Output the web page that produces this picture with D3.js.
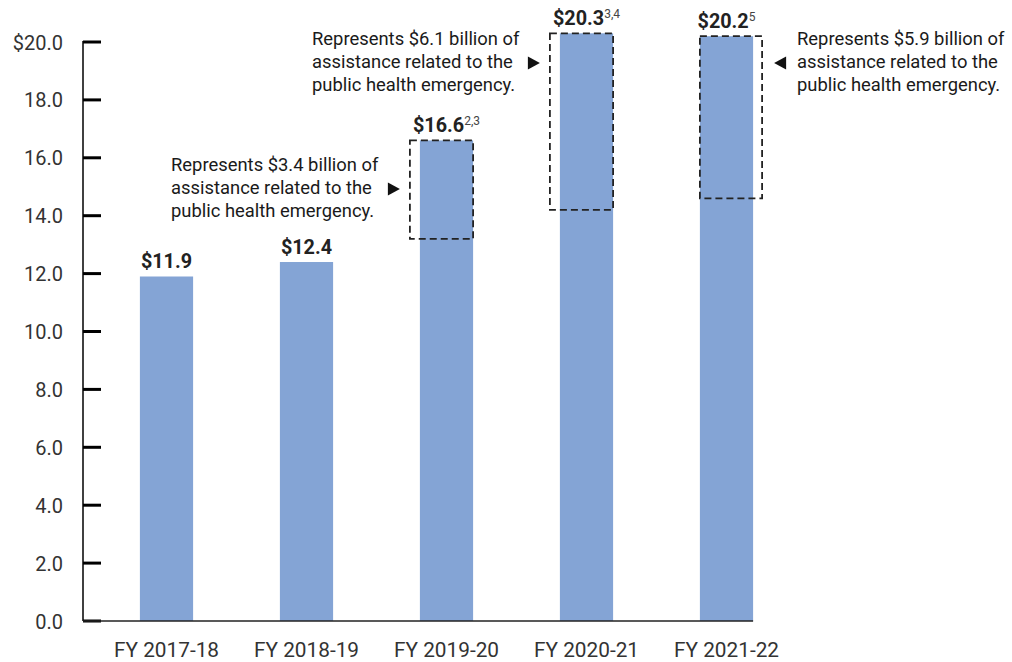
<!DOCTYPE html>
<html>
<head>
<meta charset="utf-8">
<script src="https://cdn.jsdelivr.net/npm/d3@7"></script>
<style>
  html, body { margin: 0; padding: 0; background: #fff; }
  svg { display: block; font-family: Roboto, "Noto Sans", sans-serif; }
</style>
</head>
<body>
<svg id="chart" width="1012" height="662"></svg>
<script>
// ---- data ----
const categories = ["FY 2017-18", "FY 2018-19", "FY 2019-20", "FY 2020-21", "FY 2021-22"];
const totals = [11.9, 12.4, 16.6, 20.3, 20.2];
const valueLabels = ["$11.9", "$12.4", "$16.6", "$20.3", "$20.2"];
const footnotes = ["", "", "2,3", "3,4", "5"];
const yTicks = [0, 2, 4, 6, 8, 10, 12, 14, 16, 18, 20];
const yTickLabels = ["0.0", "2.0", "4.0", "6.0", "8.0", "10.0", "12.0", "14.0", "16.0", "18.0", "$20.0"];
// public health emergency boxes
const pheCategories = ["FY 2019-20", "FY 2020-21", "FY 2021-22"];
const pheLow = [13.2, 14.2, 14.6];
const pheSide = ["left", "left", "right"];
const pheNotes = [
  ["Represents $3.4 billion of", "assistance related to the", "public health emergency."],
  ["Represents $6.1 billion of", "assistance related to the", "public health emergency."],
  ["Represents $5.9 billion of", "assistance related to the", "public health emergency."]
];

// ---- layout ----
const svg = d3.select("#chart");
const x = d3.scaleBand().domain(categories).range([96.5, 796.5]).paddingInner(0.62).paddingOuter(0.31);
const y = d3.scaleLinear().domain([0, 20]).range([621, 42]);
const barColor = "#84a4d5";
const axisX = 83;

// bars
svg.append("g").selectAll("rect").data(categories).join("rect")
  .attr("x", d => x(d))
  .attr("y", (d, i) => y(totals[i]))
  .attr("width", x.bandwidth())
  .attr("height", (d, i) => y(0) - y(totals[i]))
  .attr("fill", barColor);

// y axis
const yAxis = d3.axisLeft(y).tickValues(yTicks).tickSize(0).tickPadding(20)
  .tickFormat((d, i) => yTickLabels[i]);
const gy = svg.append("g").attr("transform", `translate(${axisX},0)`).call(yAxis);
gy.select(".domain").remove();
gy.selectAll("text").attr("font-size", 20).attr("fill", "#333").attr("font-family", "Roboto").attr("dy", "0.35em");
svg.append("line").attr("x1", axisX).attr("x2", axisX).attr("y1", y(20) - 1).attr("y2", y(0))
  .attr("stroke", "#000").attr("stroke-width", 1.5);
svg.append("g").selectAll("line").data(yTicks).join("line")
  .attr("x1", axisX).attr("x2", axisX + 18)
  .attr("y1", d => y(d)).attr("y2", d => y(d))
  .attr("stroke", "#000").attr("stroke-width", 3);

// x axis
svg.append("line").attr("x1", axisX).attr("x2", x(categories[4]) + x.bandwidth())
  .attr("y1", y(0)).attr("y2", y(0)).attr("stroke", "#222").attr("stroke-width", 1.5);
const xAxis = d3.axisBottom(x).tickSize(0).tickPadding(21);
const gx = svg.append("g").attr("transform", `translate(0,${y(0)})`).call(xAxis);
gx.select(".domain").remove();
gx.selectAll("text").attr("font-size", 20.8).attr("fill", "#333").attr("font-family", "Roboto");

// value labels
const lbl = svg.append("g").selectAll("text").data(categories).join("text")
  .attr("x", d => x(d) + x.bandwidth() / 2)
  .attr("y", (d, i) => y(totals[i]) - 8)
  .attr("text-anchor", "middle")
  .attr("font-weight", 700)
  .attr("font-size", 19.8)
  .attr("fill", "#222");
lbl.append("tspan").text((d, i) => valueLabels[i]);
lbl.append("tspan").attr("dy", -7).attr("font-size", 12).attr("font-weight", 400).attr("fill", "#444")
  .text((d, i) => footnotes[i]);

// PHE boxes
const boxG = svg.append("g");
pheCategories.forEach((c, i) => {
  const idx = categories.indexOf(c);
  const left = pheSide[i] === "left";
  const bx0 = left ? x(c) - 10 : x(c);
  const bx1 = left ? x(c) + x.bandwidth() : x(c) + x.bandwidth() + 9;
  const by0 = y(totals[idx]);
  const by1 = y(pheLow[i]);
  boxG.append("rect")
    .attr("x", bx0).attr("y", by0).attr("width", bx1 - bx0).attr("height", by1 - by0)
    .attr("fill", "none").attr("stroke", "#222").attr("stroke-width", 1.8)
    .attr("stroke-dasharray", "7,4");

  // annotation text and arrow
  const lineH = 23;
  let tx, ty, ax, ay;
  if (c === "FY 2019-20") { tx = 171; ty = 171; }
  else if (c === "FY 2020-21") { tx = 312; ty = 45; }
  else { tx = 797; ty = 45; }
  const t = svg.append("text").attr("font-size", 18.4).attr("fill", "#1a1a1a");
  pheNotes[i].forEach((s, k) => {
    t.append("tspan").attr("x", tx).attr("y", ty + k * lineH).text(s);
  });
  ay = ty + lineH - 5;
  if (left) {
    ax = bx0 - 10; // tip
    svg.append("path")
      .attr("d", `M${ax},${ay} L${ax - 12},${ay - 6.5} L${ax - 12},${ay + 6.5} Z`)
      .attr("fill", "#111");
  } else {
    ax = bx1 + 12;
    svg.append("path")
      .attr("d", `M${ax},${ay} L${ax + 12},${ay - 6.5} L${ax + 12},${ay + 6.5} Z`)
      .attr("fill", "#111");
  }
});
</script>
</body>
</html>
